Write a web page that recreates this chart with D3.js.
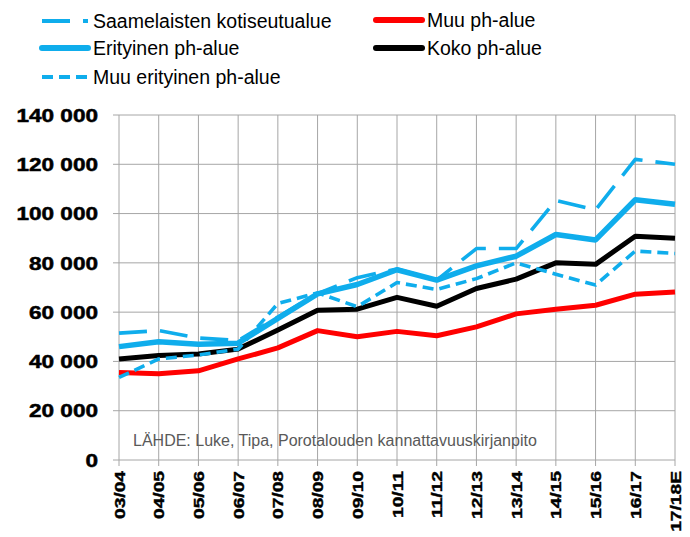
<!DOCTYPE html>
<html>
<head>
<meta charset="utf-8">
<script src="https://cdn.jsdelivr.net/npm/d3@7"></script>
<style>
  body { margin: 0; background: #fff; }
  svg { display: block; font-family: "Liberation Sans", Arial, sans-serif; }
</style>
</head>
<body>
<svg id="chart" width="690" height="537"></svg>
<script>
const years = ["03/04", "04/05", "05/06", "06/07", "07/08", "08/09", "09/10", "10/11",
  "11/12", "12/13", "13/14", "14/15", "15/16", "16/17", "17/18E"];

const saamelaisten = [51500, 52500, 49500, 48500, 58000, 67500, 74000, 77500, 73000, 85800, 85800, 105300, 101500, 122000, 120000];
const muuPh = [35500, 35000, 36200, 41000, 45500, 52500, 50000, 52200, 50400, 54000, 59300, 61200, 62800, 67300, 68200];
const erityinen = [46000, 48000, 47000, 47400, 57500, 67400, 71200, 77200, 73000, 78800, 82700, 91500, 89300, 105600, 103800];
const koko = [41000, 42400, 43000, 45000, 52800, 60800, 61200, 66000, 62400, 69600, 73400, 80000, 79400, 90800, 90000];
const muuErityinen = [33500, 41000, 42600, 45000, 63500, 67800, 62200, 72000, 69200, 73600, 80000, 75400, 71000, 84800, 83800];

const yTicks = [0, 20000, 40000, 60000, 80000, 100000, 120000, 140000];
const yTickLabels = ["0", "20 000", "40 000", "60 000", "80 000", "100 000", "120 000", "140 000"];

const series = [
  { name: "Saamelaisten kotiseutualue", values: saamelaisten, color: "#0fadec", width: 3.6, dash: "28,13" },
  { name: "Muu ph-alue", values: muuPh, color: "#ff0000", width: 5, dash: null },
  { name: "Erityinen ph-alue", values: erityinen, color: "#0fadec", width: 5.5, dash: null },
  { name: "Koko ph-alue", values: koko, color: "#000000", width: 5, dash: null },
  { name: "Muu erityinen ph-alue", values: muuErityinen, color: "#0fadec", width: 3.6, dash: "11,6" }
];

const svg = d3.select("#chart");
const gridColor = "#a6a6a6";

const x = d3.scalePoint().domain(years).range([119, 675]).padding(0);
const y = d3.scaleLinear().domain([0, 140000]).range([460, 115]);

// grid
svg.append("g").selectAll("line.h")
  .data(yTicks).enter().append("line")
  .attr("x1", 113).attr("x2", 675)
  .attr("y1", d => y(d)).attr("y2", d => y(d))
  .attr("stroke", gridColor).attr("stroke-width", 1);

svg.append("g").selectAll("line.v")
  .data(years).enter().append("line")
  .attr("x1", d => x(d)).attr("x2", d => x(d))
  .attr("y1", 115).attr("y2", 466)
  .attr("stroke", gridColor).attr("stroke-width", 1);

// y labels (wide, heavy bold like the original)
svg.append("g").selectAll("text")
  .data(yTicks).enter().append("text")
  .attr("transform", d => `translate(98,${y(d)}) scale(1.22,1)`)
  .attr("dy", "0.36em")
  .attr("text-anchor", "end")
  .attr("font-size", 18.5)
  .attr("font-weight", "bold")
  .attr("fill", "#000")
  .attr("stroke", "#000")
  .attr("stroke-width", 0.5)
  .text((d, i) => yTickLabels[i]);

// x labels
svg.append("g").selectAll("text")
  .data(years).enter().append("text")
  .attr("transform", d => `translate(${x(d)},471) rotate(-90) scale(1.24,1)`)
  .attr("dy", "0.36em")
  .attr("text-anchor", "end")
  .attr("font-size", 15.5)
  .attr("font-weight", "bold")
  .attr("fill", "#000")
  .attr("stroke", "#000")
  .attr("stroke-width", 0.4)
  .text(d => d);

// source note
svg.append("text")
  .attr("x", 133).attr("y", 446)
  .attr("font-size", 16)
  .attr("fill", "#595959")
  .text("LÄHDE: Luke, Tipa, Porotalouden kannattavuuskirjanpito");

// lines
const line = d3.line()
  .x((d, i) => x(years[i]))
  .y(d => y(d));

svg.append("g").selectAll("path")
  .data(series).enter().append("path")
  .attr("d", d => line(d.values))
  .attr("fill", "none")
  .attr("stroke", d => d.color)
  .attr("stroke-width", d => d.width)
  .attr("stroke-dasharray", d => d.dash)
  .attr("stroke-linejoin", "round");

// legend
const legendPos = [
  { x: 42, y: 21 }, { x: 376, y: 20 },
  { x: 42, y: 48 }, { x: 376, y: 48 },
  { x: 42, y: 77 }
];
const leg = svg.append("g").selectAll("g")
  .data(series).enter().append("g")
  .attr("transform", (d, i) => `translate(${legendPos[i].x},${legendPos[i].y})`);

leg.append("line")
  .attr("x1", 0).attr("x2", 46)
  .attr("stroke", d => d.color)
  .attr("stroke-width", d => d.dash ? 4 : 6)
  .attr("stroke-dasharray", d => d.dash)
  .attr("stroke-linecap", d => d.dash ? "butt" : "round");

leg.append("text")
  .attr("x", 51)
  .attr("dy", "0.35em")
  .attr("font-size", 19.5)
  .attr("fill", "#000")
  .text(d => d.name);
</script>
</body>
</html>
